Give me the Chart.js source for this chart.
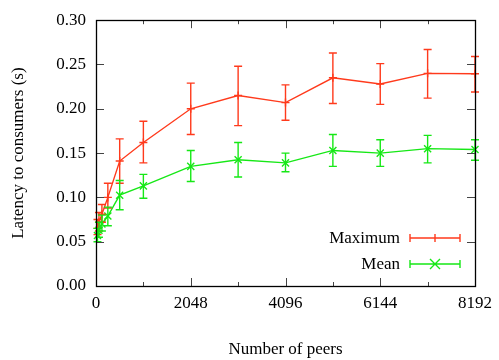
<!DOCTYPE html>
<html>
<head>
<meta charset="utf-8">
<script src="https://cdn.jsdelivr.net/npm/chart.js@4/dist/chart.umd.min.js"></script>
<style>
  html, body { margin: 0; padding: 0; background: #fff; }
  #wrap { width: 499px; height: 360px; }
</style>
</head>
<body>
<div id="wrap"><canvas id="chart" width="499" height="360"></canvas></div>
<script>
// peer counts on the x axis
const peers = [32, 64, 128, 256, 512, 1024, 2048, 3072, 4096, 5120, 6144, 7168, 8192];

// maximum latency: value, lower and upper error
const maxLatency = [0.065, 0.072, 0.081, 0.100, 0.141, 0.162, 0.200, 0.215, 0.207, 0.235, 0.228, 0.240, 0.2395];
const maxLow     = [0.058, 0.062, 0.072, 0.088, 0.116, 0.139, 0.171, 0.181, 0.187, 0.206, 0.205, 0.212, 0.219];
const maxHigh    = [0.075, 0.083, 0.092, 0.116, 0.166, 0.186, 0.229, 0.248, 0.227, 0.263, 0.251, 0.267, 0.259];

// mean latency: value, lower and upper error
const meanLatency = [0.057, 0.063, 0.070, 0.079, 0.1025, 0.113, 0.135, 0.1425, 0.139, 0.153, 0.150, 0.155, 0.154];
const meanLow     = [0.050, 0.055, 0.062, 0.068, 0.086, 0.099, 0.118, 0.123, 0.129, 0.135, 0.135, 0.139, 0.142];
const meanHigh    = [0.065, 0.072, 0.080, 0.089, 0.119, 0.126, 0.153, 0.162, 0.150, 0.171, 0.165, 0.170, 0.165];

const yTicks = [0, 0.05, 0.10, 0.15, 0.20, 0.25, 0.30];

const RED = '#ff3a1c';
const GREEN = '#16e816';
const FONT = '"Liberation Serif", "DejaVu Serif", serif';

function points(ys, lo, hi) {
  return peers.map((p, i) => ({ x: p, y: ys[i], lo: lo[i], hi: hi[i] }));
}

function drawErrorBar(ctx, x, yLo, yHi, color) {
  const cap = 4;
  ctx.strokeStyle = color;
  ctx.lineWidth = 1.4;
  ctx.beginPath();
  ctx.moveTo(x, yLo); ctx.lineTo(x, yHi);
  ctx.moveTo(x - cap, yLo); ctx.lineTo(x + cap, yLo);
  ctx.moveTo(x - cap, yHi); ctx.lineTo(x + cap, yHi);
  ctx.stroke();
}

// frame, inward ticks, error bars and the key
const gnuplotStyle = {
  id: 'gnuplotStyle',
  afterDatasetsDraw(chart) {
    const { ctx, chartArea: a, scales: { x, y } } = chart;
    ctx.save();

    chart.data.datasets.forEach(ds => {
      ds.data.forEach(pt => {
        drawErrorBar(ctx, x.getPixelForValue(pt.x), y.getPixelForValue(pt.lo), y.getPixelForValue(pt.hi), ds.borderColor);
      });
    });

    // ticks on all four sides, pointing in
    ctx.strokeStyle = '#444';
    ctx.lineWidth = 1;
    ctx.beginPath();
    x.ticks.forEach(t => {
      const px = Math.round(x.getPixelForValue(t.value)) + 0.5;
      const len = t.value % 2048 === 0 ? 8 : 4;
      ctx.moveTo(px, a.bottom); ctx.lineTo(px, a.bottom - len);
      ctx.moveTo(px, a.top); ctx.lineTo(px, a.top + len);
    });
    y.ticks.forEach(t => {
      const py = Math.round(y.getPixelForValue(t.value)) + 0.5;
      ctx.moveTo(a.left, py); ctx.lineTo(a.left + 8, py);
      ctx.moveTo(a.right, py); ctx.lineTo(a.right - 8, py);
    });
    ctx.stroke();

    ctx.strokeStyle = '#000';
    ctx.lineWidth = 1.3;
    ctx.strokeRect(Math.round(a.left) + 0.5, Math.round(a.top) + 0.5, Math.round(a.width), Math.round(a.height));

    // key
    ctx.font = '17px ' + FONT;
    ctx.textAlign = 'right';
    ctx.textBaseline = 'middle';
    const keyRows = [
      { label: 'Maximum', y: 238, color: RED, marker: 'plus' },
      { label: 'Mean', y: 264, color: GREEN, marker: 'x' }
    ];
    keyRows.forEach(row => {
      ctx.fillStyle = '#000';
      ctx.fillText(row.label, 400, row.y + 1);
      ctx.strokeStyle = row.color;
      ctx.lineWidth = 1.4;
      ctx.beginPath();
      ctx.moveTo(410, row.y); ctx.lineTo(460, row.y);
      ctx.moveTo(410, row.y - 4); ctx.lineTo(410, row.y + 4);
      ctx.moveTo(460, row.y - 4); ctx.lineTo(460, row.y + 4);
      if (row.marker === 'plus') {
        ctx.moveTo(435, row.y - 4); ctx.lineTo(435, row.y + 4);
      } else {
        ctx.moveTo(430, row.y - 5); ctx.lineTo(440, row.y + 5);
        ctx.moveTo(430, row.y + 5); ctx.lineTo(440, row.y - 5);
      }
      ctx.stroke();
    });
    ctx.restore();
  }
};

new Chart(document.getElementById('chart'), {
  type: 'line',
  data: {
    datasets: [
      {
        label: 'Maximum',
        data: points(maxLatency, maxLow, maxHigh),
        borderColor: RED,
        backgroundColor: RED,
        borderWidth: 1.4,
        pointStyle: 'cross',
        pointRadius: 4,
        pointBorderWidth: 1.4,
        tension: 0,
        clip: false
      },
      {
        label: 'Mean',
        data: points(meanLatency, meanLow, meanHigh),
        borderColor: GREEN,
        backgroundColor: GREEN,
        borderWidth: 1.4,
        pointStyle: 'crossRot',
        pointRadius: 5,
        pointBorderWidth: 1.4,
        tension: 0,
        clip: false
      }
    ]
  },
  options: {
    responsive: false,
    animation: false,
    layout: { padding: { top: 20, right: 18, left: 0, bottom: 0 } },
    plugins: { legend: { display: false }, tooltip: { enabled: false } },
    scales: {
      x: {
        type: 'linear',
        min: 0,
        max: 8192,
        grid: { display: false, drawTicks: false },
        border: { display: false },
        afterBuildTicks: s => { s.ticks = []; for (let v = 0; v <= 8192; v += 1024) s.ticks.push({ value: v }); },
        ticks: {
          autoSkip: false,
          maxRotation: 0,
          padding: 7,
          color: '#000',
          font: { family: FONT, size: 17 },
          callback: v => (v % 2048 === 0 ? String(v) : '')
        },
        title: {
          display: true,
          text: 'Number of peers',
          color: '#000',
          font: { family: FONT, size: 17 },
          padding: { top: 14, bottom: 0 }
        },
        afterFit: s => { s.height = 74; }
      },
      y: {
        min: 0,
        max: 0.3,
        grid: { display: false, drawTicks: false },
        border: { display: false },
        afterBuildTicks: s => { s.ticks = yTicks.map(v => ({ value: v })); },
        ticks: {
          padding: 10,
          color: '#000',
          font: { family: FONT, size: 17 },
          callback: v => v.toFixed(2)
        },
        title: {
          display: true,
          text: 'Latency to consumers (s)',
          color: '#000',
          font: { family: FONT, size: 17 },
          padding: { top: 8, bottom: 14 }
        },
        afterFit: s => { s.width = 96; }
      }
    }
  },
  plugins: [gnuplotStyle]
});
</script>
</body>
</html>
